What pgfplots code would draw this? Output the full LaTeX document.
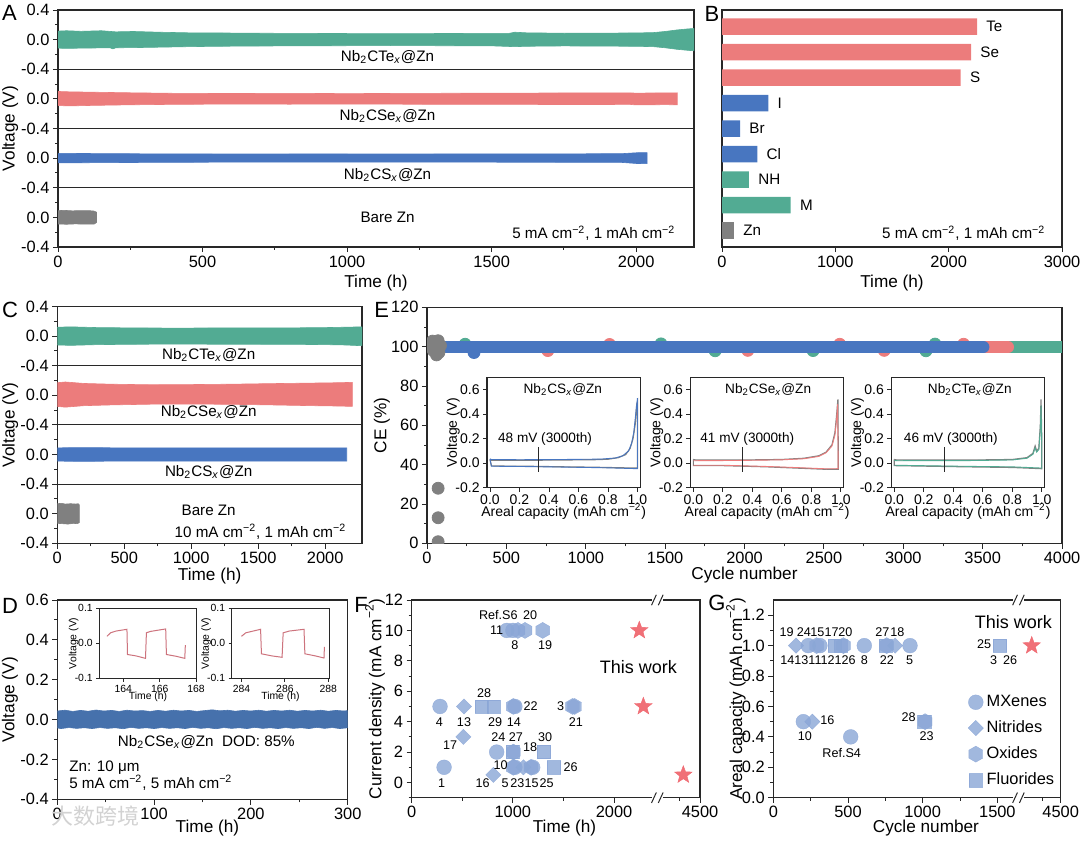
\documentclass[border=0pt]{standalone}
\usepackage{fontspec}
\setmainfont{Liberation Sans}
\newfontfamily\cjk{Noto Sans CJK SC}
\usepackage{pgfplots}
\pgfplotsset{compat=1.18}

\definecolor{cTe}{RGB}{82,171,147}
\definecolor{cSe}{RGB}{236,124,124}
\definecolor{cS}{RGB}{72,118,192}
\definecolor{cZn}{RGB}{128,128,128}
\definecolor{cD}{RGB}{70,113,172}
\definecolor{cM}{RGB}{138,166,214}
\definecolor{cStar}{RGB}{239,104,112}
\definecolor{cIn}{RGB}{205,115,125}
\definecolor{ax}{RGB}{40,40,40}

\pgfdeclareplotmark{hex*}{%
  \pgfpathmoveto{\pgfpointpolar{30}{\pgfplotmarksize}}%
  \pgfpathlineto{\pgfpointpolar{90}{\pgfplotmarksize}}%
  \pgfpathlineto{\pgfpointpolar{150}{\pgfplotmarksize}}%
  \pgfpathlineto{\pgfpointpolar{210}{\pgfplotmarksize}}%
  \pgfpathlineto{\pgfpointpolar{270}{\pgfplotmarksize}}%
  \pgfpathlineto{\pgfpointpolar{330}{\pgfplotmarksize}}%
  \pgfpathclose
  \pgfusepathqfillstroke
}
\pgfdeclareplotmark{fstar}{%
  \pgfpathmoveto{\pgfpointpolar{90}{\pgfplotmarksize}}%
  \pgfpathlineto{\pgfpointpolar{126}{0.42\pgfplotmarksize}}%
  \pgfpathlineto{\pgfpointpolar{162}{\pgfplotmarksize}}%
  \pgfpathlineto{\pgfpointpolar{198}{0.42\pgfplotmarksize}}%
  \pgfpathlineto{\pgfpointpolar{234}{\pgfplotmarksize}}%
  \pgfpathlineto{\pgfpointpolar{270}{0.42\pgfplotmarksize}}%
  \pgfpathlineto{\pgfpointpolar{306}{\pgfplotmarksize}}%
  \pgfpathlineto{\pgfpointpolar{342}{0.42\pgfplotmarksize}}%
  \pgfpathlineto{\pgfpointpolar{18}{\pgfplotmarksize}}%
  \pgfpathlineto{\pgfpointpolar{54}{0.42\pgfplotmarksize}}%
  \pgfpathclose
  \pgfusepathqfillstroke
}

\newcommand\tf{\fontsize{8.2}{9.5}\selectfont}
\newcommand\lf{\fontsize{8.6}{10}\selectfont}
\newcommand\af{\fontsize{7.6}{9}\selectfont}
\newcommand\pf{\fontsize{11}{13}\selectfont}
\newcommand\nf{\fontsize{6.3}{7}\selectfont}
\newcommand\wf{\fontsize{9}{10}\selectfont}
\newcommand\nbc[1]{Nb\textsubscript{2}C#1\textsubscript{\textit{x}}@Zn}
\newcommand\cmm{cm\textsuperscript{−2}}

\newcommand\brk[2]{%
 \fill[white] ([xshift=-2.6pt,yshift=-3pt]axis cs:#1,#2) rectangle ([xshift=2.6pt,yshift=3pt]axis cs:#1,#2);
 \draw[ax,line width=0.5pt] ([xshift=-2.9pt,yshift=-2.6pt]axis cs:#1,#2) -- ([xshift=-0.5pt,yshift=2.6pt]axis cs:#1,#2);
 \draw[ax,line width=0.5pt] ([xshift=0.5pt,yshift=-2.6pt]axis cs:#1,#2) -- ([xshift=2.9pt,yshift=2.6pt]axis cs:#1,#2);
}

\pgfplotsset{
 base/.style={
  scale only axis, anchor=south west,
  axis line style={line width=0.55pt, ax},
  tick style={line width=0.45pt, ax},
  tick align=outside, xtick pos=left, ytick pos=left,
  major tick length=2.6pt, minor tick length=1.5pt,
  tick label style={font=\tf},
  label style={font=\lf},
  /pgf/number format/assume math mode=true,
  /pgf/number format/1000 sep={},
  scaled ticks=false,
  xticklabel style={inner sep=1.5pt},
  yticklabel style={inner sep=1.5pt},
 },
 fzy/.style={yticklabel style={/pgf/number format/.cd,fixed,fixed zerofill,precision=1}},
 fzx/.style={xticklabel style={/pgf/number format/.cd,fixed,fixed zerofill,precision=1}},
 mopt/.style={mark options={fill=cM, draw=cM, fill opacity=0.8, draw opacity=0.8, line width=0.2pt}},
 mx/.style={only marks, mark=*, mark size=3.7pt, mopt},
 ni/.style={only marks, mark=square*, mark size=2.7pt, mark options={rotate=45, fill=cM, draw=cM, fill opacity=0.8, draw opacity=0.8, line width=0.2pt}},
 ox/.style={only marks, mark=hex*, mark size=4pt, mopt},
 fl/.style={only marks, mark=square*, mark size=3.3pt, mopt},
 st/.style={only marks, mark=fstar, mark size=4.6pt, mark options={fill=cStar, draw=cStar, fill opacity=0.95, line width=0.2pt}},
 lgimg/.style={legend image code/.code={\draw[##1] plot coordinates {(0.18cm,0cm)};}},
 einset/.style={base, fzx, fzy, width=76.7pt, height=55.2pt,
  xmin=-0.02, xmax=1.02, ymin=-0.2, ymax=0.7,
  xtick={0,0.2,0.4,0.6,0.8,1.0}, ytick={-0.2,0,0.2,0.4,0.6},
  tick label style={font=\fontsize{7}{8}\selectfont},
  label style={font=\fontsize{7}{8}\selectfont},
  major tick length=2pt,
  xlabel={Areal capacity (mAh \cmm)}, ylabel={Voltage (V)},
  axis background/.style={fill=white},
  xlabel style={at={(axis description cs:0.5,-0.217)},anchor=center},
  ylabel style={at={(axis description cs:-0.22,0.5)},anchor=center}},
 dinset/.style={base, fzy, width=48.75pt, height=35pt,
  axis line style={line width=0.45pt, ax},
  ymin=-0.1, ymax=0.1, ytick={-0.1,0,0.1},
  tick label style={font=\fontsize{5.2}{6}\selectfont},
  label style={font=\fontsize{5.2}{6}\selectfont},
  major tick length=1.6pt, minor tick length=1pt,
  xlabel={Time (h)}, ylabel={Voltage (V)},
  axis background/.style={fill=white},
  xlabel style={at={(axis description cs:0.5,-0.27)},anchor=center},
  ylabel style={at={(axis description cs:-0.262,0.5)},anchor=center}},
}

\begin{document}
\begin{tikzpicture}
\useasboundingbox (0,0) rectangle (540pt,420.5pt);

% ---------------- A ----------------
\begin{axis}[base, at={(29pt,297pt)}, width=318pt, height=118.5pt,
 xmin=0, xmax=2200, ymin=-0.4, ymax=2.8,
 xtick={0,500,1000,1500,2000}, minor x tick num=1,
 ytick={-0.4,0,0.4,0.8,1.2,1.6,2.0,2.4,2.8},
 yticklabels={-0.4,0.0,-0.4,0.0,-0.4,0.0,-0.4,0.0,0.4},
 minor ytick={-0.2,0.2,0.6,1.0,1.4,1.8,2.2,2.6},
 xlabel={Time (h)}, ylabel={Voltage (V)},
 xlabel style={at={(axis description cs:0.5,-0.152)},anchor=center},
 ylabel style={at={(axis description cs:-0.075,0.5)},anchor=center}]
\addplot[fill=cTe, draw=cTe, line width=0.3pt] coordinates {(0,2.515)(30,2.52)(80,2.512)(150,2.52)(200,2.505)(260,2.51)(350,2.5)(450,2.492)(550,2.49)(700,2.486)(850,2.484)(1000,2.482)(1150,2.48)(1300,2.482)(1450,2.484)(1560,2.484)(1580,2.5)(1620,2.492)(1750,2.486)(1900,2.488)(2000,2.49)(2060,2.495)(2100,2.51)(2140,2.53)(2180,2.545)(2200,2.55)
 (2200,2.25)(2180,2.255)(2140,2.27)(2100,2.29)(2060,2.305)(2000,2.31)(1900,2.312)(1750,2.315)(1620,2.31)(1580,2.305)(1500,2.316)(1300,2.318)(1150,2.32)(1000,2.318)(850,2.316)(700,2.314)(550,2.31)(450,2.305)(350,2.298)(260,2.292)(200,2.29)(190,2.275)(180,2.29)(80,2.285)(30,2.282)(0,2.285)};
\addplot[fill=cSe, draw=cSe, line width=0.3pt] coordinates {(0,1.7)(40,1.695)(120,1.69)(250,1.682)(400,1.675)(600,1.672)(800,1.675)(1000,1.671)(1200,1.674)(1400,1.676)(1600,1.678)(1800,1.68)(1950,1.682)(2000,1.678)(2100,1.68)(2142,1.682)
 (2142,1.52)(2100,1.522)(2000,1.518)(1980,1.525)(1800,1.524)(1600,1.525)(1400,1.526)(1200,1.528)(1000,1.53)(800,1.528)(600,1.53)(400,1.526)(250,1.52)(120,1.512)(40,1.505)(0,1.51)};
\addplot[fill=cS, draw=cS, line width=0.3pt] coordinates {(0,0.865)(100,0.862)(300,0.858)(600,0.855)(900,0.856)(1200,0.855)(1500,0.857)(1800,0.858)(1950,0.86)(2000,0.872)(2038,0.875)
 (2038,0.725)(2000,0.728)(1950,0.742)(1800,0.744)(1500,0.745)(1200,0.746)(900,0.745)(600,0.746)(300,0.742)(100,0.738)(0,0.735)};
\addplot[fill=cZn, draw=cZn, line width=0.3pt] coordinates {(0,0.09)(20,0.095)(50,0.088)(80,0.092)(110,0.09)(125,0.085)(133,0.07)(133,-0.07)(125,-0.09)(100,-0.092)(60,-0.088)(30,-0.093)(0,-0.09)};
\draw[ax, line width=0.55pt] (axis cs:0,0.4) -- (axis cs:2200,0.4);
\draw[ax, line width=0.55pt] (axis cs:0,1.2) -- (axis cs:2200,1.2);
\draw[ax, line width=0.55pt] (axis cs:0,2.0) -- (axis cs:2200,2.0);
\node[font=\af] at (axis cs:1140,2.165) {\nbc{Te}};
\node[font=\af] at (axis cs:1140,1.369) {\nbc{Se}};
\node[font=\af] at (axis cs:1140,0.572) {\nbc{S}};
\node[font=\af] at (axis cs:1140,0.0) {Bare Zn};
\node[font=\af, anchor=east] at (axis cs:2160,-0.215) {5 mA \cmm, 1 mAh \cmm};
\end{axis}

% ---------------- B ----------------
\begin{axis}[base, at={(361pt,297pt)}, width=170pt, height=118.5pt,
 xmin=0, xmax=3000, ymin=-0.64, ymax=8.65, ytick=\empty,
 xtick={0,1000,2000,3000},
 xlabel={Time (h)},
 xlabel style={at={(axis description cs:0.5,-0.152)},anchor=center}]
\addplot[xbar, bar width=8.3pt, bar shift=0pt, fill=cSe, draw=none] coordinates {(2250,8)(2198,7)(2106,6)};
\addplot[xbar, bar width=8.3pt, bar shift=0pt, fill=cS, draw=none] coordinates {(408,5)(159,4)(311,3)};
\addplot[xbar, bar width=8.3pt, bar shift=0pt, fill=cTe, draw=none] coordinates {(238,2)(606,1)};
\addplot[xbar, bar width=8.3pt, bar shift=0pt, fill=cZn, draw=none] coordinates {(106,0)};
\node[font=\af, anchor=west] at (axis cs:2270,8) {Te};
\node[font=\af, anchor=west] at (axis cs:2218,7) {Se};
\node[font=\af, anchor=west] at (axis cs:2126,6) {S};
\node[font=\af, anchor=west] at (axis cs:428,5) {I};
\node[font=\af, anchor=west] at (axis cs:179,4) {Br};
\node[font=\af, anchor=west] at (axis cs:331,3) {Cl};
\node[font=\af, anchor=west] at (axis cs:258,2) {NH};
\node[font=\af, anchor=west] at (axis cs:626,1) {M};
\node[font=\af, anchor=west] at (axis cs:126,0) {Zn};
\node[font=\af, anchor=east] at (axis cs:2915,-0.1) {5 mA \cmm, 1 mAh \cmm};
\end{axis}

% ---------------- C ----------------
\begin{axis}[base, at={(28.65pt,148.85pt)}, width=152.35pt, height=118.4pt,
 xmin=0, xmax=2275, ymin=-0.4, ymax=2.8,
 xtick={0,500,1000,1500,2000}, minor x tick num=1,
 ytick={-0.4,0,0.4,0.8,1.2,1.6,2.0,2.4,2.8},
 yticklabels={-0.4,0.0,-0.4,0.0,-0.4,0.0,-0.4,0.0,0.4},
 minor ytick={-0.2,0.2,0.6,1.0,1.4,1.8,2.2,2.6},
 xlabel={Time (h)}, ylabel={Voltage (V)},
 xlabel style={at={(axis description cs:0.5,-0.14)},anchor=center},
 ylabel style={at={(axis description cs:-0.155,0.5)},anchor=center}]
\addplot[fill=cTe, draw=cTe, line width=0.3pt] coordinates {(0,2.52)(100,2.525)(300,2.515)(600,2.51)(900,2.508)(1200,2.51)(1500,2.512)(1800,2.512)(2000,2.515)(2150,2.52)(2275,2.525)
 (2275,2.27)(2150,2.28)(2000,2.285)(1800,2.288)(1500,2.29)(1200,2.29)(900,2.292)(600,2.29)(300,2.285)(100,2.275)(0,2.28)};
\addplot[fill=cSe, draw=cSe, line width=0.3pt] coordinates {(0,1.77)(60,1.78)(200,1.76)(400,1.75)(700,1.742)(1000,1.745)(1300,1.75)(1600,1.758)(1900,1.765)(2100,1.77)(2203,1.775)
 (2203,1.45)(2100,1.455)(1900,1.46)(1600,1.47)(1300,1.478)(1000,1.482)(700,1.48)(400,1.47)(200,1.46)(60,1.44)(0,1.45)};
\addplot[fill=cS, draw=cS, line width=0.3pt] coordinates {(0,0.89)(200,0.893)(600,0.888)(1000,0.89)(1400,0.888)(1800,0.89)(2161,0.89)
 (2161,0.71)(1800,0.71)(1400,0.712)(1000,0.71)(600,0.712)(200,0.708)(0,0.71)};
\addplot[fill=cZn, draw=cZn, line width=0.3pt] coordinates {(0,0.135)(30,0.14)(60,0.13)(100,0.135)(140,0.13)(155,0.135)(164,0.12)(164,-0.12)(150,-0.135)(120,-0.13)(80,-0.14)(40,-0.135)(0,-0.13)};
\draw[ax, line width=0.55pt] (axis cs:0,0.4) -- (axis cs:2275,0.4);
\draw[ax, line width=0.55pt] (axis cs:0,1.2) -- (axis cs:2275,1.2);
\draw[ax, line width=0.55pt] (axis cs:0,2.0) -- (axis cs:2275,2.0);
\node[font=\af] at (axis cs:1130,2.145) {\nbc{Te}};
\node[font=\af] at (axis cs:1130,1.38) {\nbc{Se}};
\node[font=\af] at (axis cs:1130,0.56) {\nbc{S}};
\node[font=\af] at (axis cs:1130,0.05) {Bare Zn};
\node[font=\af, anchor=east] at (axis cs:2210,-0.243) {10 mA \cmm, 1 mAh \cmm};
\end{axis}

% ---------------- E ----------------
\begin{axis}[base, at={(213.5pt,148.85pt)}, width=317.5pt, height=118pt,
 clip marker paths=true,
 xmin=0, xmax=4000, ymin=0, ymax=120,
 xtick={0,500,1000,1500,2000,2500,3000,3500,4000}, ytick={0,20,40,60,80,100,120},
 minor x tick num=1, minor y tick num=1,
 xlabel={Cycle number}, ylabel={CE (\%)},
 xlabel style={at={(axis description cs:0.5,-0.134)},anchor=center},
 ylabel style={at={(axis description cs:-0.071,0.5)},anchor=center}]
\addplot[cTe, line width=6pt] coordinates {(40,99.7)(4000,99.7)};
\addplot[only marks, mark=*, mark size=3pt, cTe] coordinates {(1474,101.4)(1815,97.9)(2432,98.0)(3143,97.9)(240,101.2)(3200,101.3)};
\addplot[cSe, line width=6pt, line cap=round] coordinates {(40,99.7)(3660,99.7)};
\addplot[only marks, mark=*, mark size=3pt, cSe] coordinates {(761,98.0)(2021,98.1)(2600,101.2)(2880,98.1)(3380,101.2)(1150,101.1)};
\addplot[cS, line width=6pt, line cap=round] coordinates {(40,99.8)(3505,99.8)};
\addplot[only marks, mark=*, mark size=3pt, cS] coordinates {(296,97.0)};
\addplot[only marks, mark=*, mark size=3pt, cZn] coordinates {(20,100)(40,98)(55,101.5)(70,103)(75,97)(85,100.5)(60,95.8)(35,102.8)(70,28)(70,13)(70,0.8)};
\end{axis}

\begin{axis}[einset, at={(243.5pt,176.65pt)}]
\addplot[cZn, line width=0.6pt] coordinates {(0,0.03)(0.01,0.024)(0.1,0.024)(0.3,0.024)(0.5,0.026)(0.7,0.028)(0.8,0.032)(0.87,0.045)(0.92,0.07)(0.95,0.12)(0.97,0.2)(0.985,0.32)(0.995,0.48)(1.0,0.5)(1.0,-0.04)(0.9,-0.038)(0.7,-0.033)(0.5,-0.03)(0.3,-0.026)(0.1,-0.024)(0.01,-0.022)(0,0.03)};
\addplot[cS, line width=0.45pt] coordinates {(0,0.035)(0.01,0.03)(0.2,0.028)(0.5,0.03)(0.75,0.033)(0.85,0.042)(0.9,0.06)(0.94,0.1)(0.96,0.16)(0.975,0.25)(0.99,0.42)(1.0,0.53)(1.0,-0.045)(0.8,-0.038)(0.5,-0.032)(0.2,-0.027)(0.01,-0.025)(0,0.035)};
\addplot[ax, line width=0.5pt] coordinates {(0.33,-0.07)(0.33,0.13)};
\node[font=\fontsize{6.8}{8}\selectfont] at (axis cs:0.494,0.6) {\nbc{S}};
\node[font=\fontsize{6.8}{8}\selectfont, anchor=west, inner sep=0pt] at (axis cs:0.053,0.2) {48 mV (3000th)};
\end{axis}

\begin{axis}[einset, at={(345.2pt,176.65pt)}]
\addplot[cZn, line width=0.6pt] coordinates {(0,0.03)(0.02,0.025)(0.3,0.025)(0.6,0.03)(0.75,0.04)(0.85,0.06)(0.9,0.09)(0.94,0.15)(0.96,0.25)(0.972,0.4)(0.98,0.52)(0.983,-0.05)(0.9,-0.05)(0.7,-0.04)(0.5,-0.03)(0.2,-0.02)(0,-0.02)(0,0.03)};
\addplot[cSe, line width=0.45pt] coordinates {(0,0.02)(0.02,0.02)(0.3,0.022)(0.6,0.027)(0.75,0.036)(0.85,0.055)(0.9,0.085)(0.94,0.14)(0.96,0.23)(0.972,0.37)(0.978,0.48)(0.982,-0.045)(0.9,-0.046)(0.7,-0.036)(0.5,-0.027)(0.2,-0.017)(0,-0.017)};
\addplot[ax, line width=0.5pt] coordinates {(0.332,-0.07)(0.332,0.13)};
\node[font=\fontsize{6.8}{8}\selectfont] at (axis cs:0.507,0.6) {\nbc{Se}};
\node[font=\fontsize{6.8}{8}\selectfont, anchor=west, inner sep=0pt] at (axis cs:0.045,0.2) {41 mV (3000th)};
\end{axis}

\begin{axis}[einset, at={(445.65pt,176.65pt)}]
\addplot[cZn, line width=0.6pt] coordinates {(0,0.03)(0.02,0.025)(0.5,0.025)(0.8,0.03)(0.9,0.045)(0.94,0.08)(0.955,0.14)(0.965,0.1)(0.98,0.12)(0.99,0.3)(0.995,0.52)(1.0,0.2)(1.0,-0.045)(0.8,-0.035)(0.5,-0.03)(0,-0.02)(0,0.03)};
\addplot[cTe, line width=0.45pt] coordinates {(0,0.022)(0.02,0.02)(0.5,0.021)(0.8,0.026)(0.9,0.04)(0.94,0.072)(0.955,0.125)(0.965,0.09)(0.98,0.11)(0.99,0.27)(0.995,0.47)(1.0,0.15)(1.0,-0.04)(0.8,-0.03)(0.5,-0.026)(0,-0.017)};
\addplot[ax, line width=0.5pt] coordinates {(0.342,-0.07)(0.342,0.13)};
\node[font=\fontsize{6.8}{8}\selectfont] at (axis cs:0.512,0.6) {\nbc{Te}};
\node[font=\fontsize{6.8}{8}\selectfont, anchor=west, inner sep=0pt] at (axis cs:0.063,0.2) {46 mV (3000th)};
\end{axis}

% ---------------- D ----------------
\begin{axis}[base, fzy, at={(28.65pt,20.85pt)}, width=145.2pt, height=99.65pt,
 xmin=0, xmax=300, ymin=-0.4, ymax=0.6,
 xtick={0,100,200,300}, ytick={-0.4,-0.2,0,0.2,0.4,0.6},
 minor x tick num=1, minor y tick num=1,
 xlabel={Time (h)}, ylabel={Voltage (V)},
 xlabel style={at={(axis description cs:0.517,-0.1455)},anchor=center},
 ylabel style={at={(axis description cs:-0.163,0.5)},anchor=center}]
\addplot[fill=cD, draw=cD, line width=0.3pt] coordinates {(0,0.043)(8,0.047)(16,0.041)(24,0.046)(32,0.042)(40,0.048)(48,0.043)(56,0.046)(64,0.041)(72,0.047)(80,0.043)(88,0.045)(96,0.041)(104,0.046)(112,0.042)(120,0.047)(128,0.043)(136,0.046)(144,0.041)(152,0.045)(160,0.049)(168,0.044)(176,0.047)(184,0.042)(192,0.046)(200,0.043)(208,0.047)(216,0.042)(224,0.046)(232,0.043)(240,0.047)(248,0.042)(256,0.046)(264,0.043)(272,0.047)(280,0.042)(288,0.046)(296,0.043)(300,0.045)
 (300,-0.041)(292,-0.045)(284,-0.04)(276,-0.044)(268,-0.039)(260,-0.045)(252,-0.041)(244,-0.044)(236,-0.04)(228,-0.045)(220,-0.041)(212,-0.044)(204,-0.039)(196,-0.045)(188,-0.041)(180,-0.044)(172,-0.04)(164,-0.046)(156,-0.041)(148,-0.044)(140,-0.039)(132,-0.045)(124,-0.041)(116,-0.044)(108,-0.04)(100,-0.045)(92,-0.041)(84,-0.044)(76,-0.039)(68,-0.046)(60,-0.041)(52,-0.044)(44,-0.04)(36,-0.045)(28,-0.041)(20,-0.044)(12,-0.04)(4,-0.045)(0,-0.042)};
\node[font=\af] at (axis cs:154,-0.111) {\nbc{Se}\ \ DOD: 85\%};
\node[font=\af, anchor=west, inner sep=0pt] at (axis cs:12,-0.24) {Zn: 10 μm};
\node[font=\af, anchor=west, inner sep=0pt] at (axis cs:12,-0.317) {5 mA \cmm, 5 mAh \cmm};
\end{axis}

\begin{axis}[dinset, at={(49.65pt,81.35pt)}, xmin=162.68, xmax=168.04, xtick={164,166,168}]
\addplot[cIn, line width=0.5pt] coordinates {(163.1,0.02)(163.3,0.03)(163.6,0.035)(164.2,0.04)(164.23,-0.032)(164.7,-0.036)(165.22,-0.043)(165.27,0.03)(165.5,0.034)(166.33,0.041)(166.37,-0.032)(166.9,-0.037)(167.38,-0.043)(167.41,-0.005)};
\end{axis}
\begin{axis}[dinset, at={(115.85pt,81.35pt)}, xmin=283.55, xmax=288.04, xtick={284,286,288}]
\addplot[cIn, line width=0.5pt] coordinates {(284.0,0.02)(284.2,0.03)(284.88,0.04)(284.92,-0.03)(285.4,-0.036)(285.87,-0.04)(285.92,0.03)(286.2,0.035)(286.88,0.04)(286.92,-0.03)(287.4,-0.036)(287.8,-0.042)(287.82,-0.01)};
\end{axis}

% ---------------- F ----------------
\begin{axis}[base, at={(205.85pt,21.65pt)}, width=144.15pt, height=98.85pt,
 clip mode=individual,
 xmin=0, xmax=2850, ymin=-1, ymax=12,
 xtick={0,1000,2000,2850}, xticklabels={0,1000,2000,4500},
 minor xtick={500,1500,2650},
 ytick={0,2,4,6,8,10,12}, minor ytick={-1,1,3,5,7,9,11},
 xlabel={Time (h)}, ylabel={Current density (mA \cmm)},
 xlabel style={at={(axis description cs:0.53,-0.155)},anchor=center},
 ylabel style={at={(axis description cs:-0.127,0.5)},anchor=center}]
\addplot[mx] coordinates {(320,1)(280,5)(840,2)(940,10)(1000,10)(1020,5)(1020,1)(1196,1)};
\addplot[ni] coordinates {(517,5)(511,3)(807,0.5)(1104,1)};
\addplot[ox] coordinates {(1050,10)(1120,10)(1295,10)(1005,5)(1590,5)(1610,5)(1005,2)(1005,1)(1180,1)};
\addplot[fl] coordinates {(692,5)(807,5)(1000,2)(1308,2)(1407,1)};
\addplot[st] coordinates {(2250,10)(2290,5)(2685,0.5)};
\node[font=\nf] at (axis cs:857,11.0) {Ref.S6};
\node[font=\nf] at (axis cs:1170,11.0) {20};
\node[font=\nf] at (axis cs:840,10.0) {11};
\node[font=\nf] at (axis cs:1021,9.03) {8};
\node[font=\nf] at (axis cs:1318,9.03) {19};
\node[font=\nf] at (axis cs:715,5.85) {28};
\node[font=\nf] at (axis cs:273,3.98) {4};
\node[font=\nf] at (axis cs:517,3.98) {13};
\node[font=\nf] at (axis cs:824,3.98) {29};
\node[font=\nf] at (axis cs:1011,3.98) {14};
\node[font=\nf] at (axis cs:1176,5.0) {22};
\node[font=\nf] at (axis cs:1473,5.0) {3};
\node[font=\nf] at (axis cs:1624,3.98) {21};
\node[font=\nf] at (axis cs:379,2.44) {17};
\node[font=\nf] at (axis cs:857,2.99) {24};
\node[font=\nf] at (axis cs:1031,2.99) {27};
\node[font=\nf] at (axis cs:1318,2.99) {30};
\node[font=\nf] at (axis cs:1170,2.33) {18};
\node[font=\nf] at (axis cs:880,1.12) {10};
\node[font=\nf] at (axis cs:1572,1.01) {26};
\node[font=\nf] at (axis cs:297,-0.02) {1};
\node[font=\nf] at (axis cs:702,-0.02) {16};
\node[font=\nf] at (axis cs:923,-0.02) {5};
\node[font=\nf] at (axis cs:1044,-0.02) {23};
\node[font=\nf] at (axis cs:1186,-0.02) {15};
\node[font=\nf] at (axis cs:1334,-0.02) {25};
\node[font=\wf] at (axis cs:2240,7.6) {This work};
\brk{2428}{12}
\brk{2428}{-1}
\end{axis}

% ---------------- G ----------------
\begin{axis}[base, fzy, at={(386.65pt,21.65pt)}, width=143.7pt, height=98.85pt,
 clip mode=individual,
 xmin=0, xmax=1924, ymin=0, ymax=1.3,
 xtick={0,500,1000,1500,1924}, xticklabels={0,500,1000,1500,4500},
 minor xtick={250,750,1250,1800},
 ytick={0,0.2,0.4,0.6,0.8,1.0,1.2}, minor ytick={0.1,0.3,0.5,0.7,0.9,1.1},
 xlabel={Cycle number}, ylabel={Areal capacity (mAh \cmm)},
 xlabel style={at={(axis description cs:0.531,-0.155)},anchor=center},
 ylabel style={at={(axis description cs:-0.13,0.5)},anchor=center},
 legend style={at={(rel axis cs:0.678,0.535)}, anchor=north west, draw=none, fill=none,
   font=\fontsize{8.2}{9}\selectfont, inner sep=0pt, outer sep=0pt, row sep=2.4pt,
   nodes={inner sep=1.6pt}},
 legend cell align=left]
\addlegendimage{mx, lgimg}\addlegendentry{MXenes}
\addlegendimage{ni, lgimg}\addlegendentry{Nitrides}
\addlegendimage{ox, lgimg}\addlegendentry{Oxides}
\addlegendimage{fl, lgimg}\addlegendentry{Fluorides}
\addplot[mx, forget plot] coordinates {(234,1)(312,1)(609,1)(915,1)(201,0.5)(518,0.4)};
\addplot[ni, forget plot] coordinates {(152,1)(815,1)(261,0.5)};
\addplot[ox, forget plot] coordinates {(290,1)(469,1)(759,1)(1016,0.5)};
\addplot[fl, forget plot] coordinates {(413,1)(450,1)(752,1)(1518,1)(1010,0.5)};
\addplot[st, forget plot] coordinates {(1730,1)};
\node[font=\nf] at (axis cs:89,1.09) {19};
\node[font=\nf] at (axis cs:205,1.09) {24};
\node[font=\nf] at (axis cs:295,1.09) {15};
\node[font=\nf] at (axis cs:391,1.09) {17};
\node[font=\nf] at (axis cs:482,1.09) {20};
\node[font=\nf] at (axis cs:730,1.09) {27};
\node[font=\nf] at (axis cs:830,1.09) {18};
\node[font=\nf, anchor=west, inner sep=0pt] at (axis cs:45,0.903) {14131112126};
\node[font=\nf] at (axis cs:609,0.903) {8};
\node[font=\nf] at (axis cs:761,0.903) {22};
\node[font=\nf] at (axis cs:913,0.903) {5};
\node[font=\nf] at (axis cs:1475,0.903) {3};
\node[font=\nf] at (axis cs:1585,0.903) {26};
\node[font=\nf] at (axis cs:1411,1.01) {25};
\node[font=\nf] at (axis cs:212,0.407) {10};
\node[font=\nf] at (axis cs:362,0.511) {16};
\node[font=\nf] at (axis cs:906,0.529) {28};
\node[font=\nf] at (axis cs:1027,0.407) {23};
\node[font=\nf] at (axis cs:458,0.291) {Ref.S4};
\node[font=\wf] at (axis cs:1607,1.156) {This work};
\brk{1641}{1.3}
\brk{1641}{0}
\end{axis}

% panel letters
\node[font=\pf] at (4.75pt,413.85pt) {A};
\node[font=\pf] at (356pt,413.4pt) {B};
\node[font=\pf] at (5pt,265.35pt) {C};
\node[font=\pf] at (190.85pt,265.5pt) {E};
\node[font=\pf] at (5pt,117.5pt) {D};
\node[font=\pf] at (180.5pt,118pt) {F};
\node[font=\pf] at (358.5pt,119pt) {G};
\node[font=\fontsize{11}{12}\selectfont\cjk, text=gray!35] at (47.5pt,12.5pt) {大数跨境};
\end{tikzpicture}
\end{document}
